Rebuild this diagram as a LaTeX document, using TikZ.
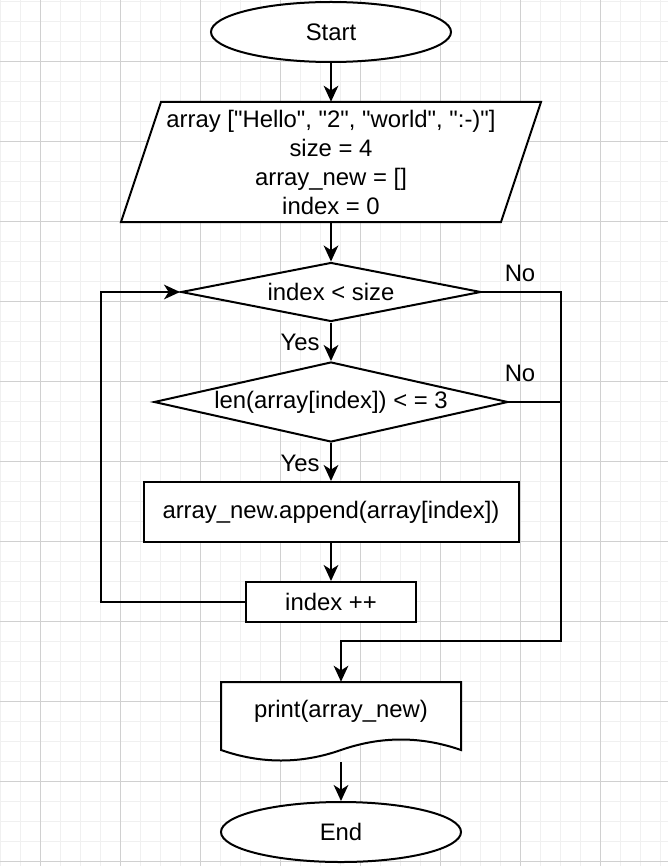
\documentclass[tikz,border=0pt]{standalone}
\usepackage{fontspec}
\setmainfont{Liberation Sans}[Ligatures=TeXOff]
\usetikzlibrary{shapes.geometric,arrows.meta}
\definecolor{gridminor}{RGB}{240,240,240}
\definecolor{gridmajor}{RGB}{208,208,208}
\tikzset{
  every node/.style={font=\fontsize{17.9pt}{21.75pt}\selectfont, inner sep=0pt},
  shapeline/.style={draw=black, line width=1.5pt, fill=white},
  term/.style={shapeline, ellipse, minimum width=180pt, minimum height=45pt},
  decision/.style={shapeline, diamond, aspect=5},
  procbox/.style={shapeline, rectangle},
  conn/.style={line width=1.5pt, -{Stealth[length=12pt,width=11pt,inset=3.5pt]}},
  plainconn/.style={line width=1.5pt},
  lbl/.style={}
}
\begin{document}
\begin{tikzpicture}[x=0.75pt,y=-0.75pt]
\useasboundingbox (0,0) rectangle (668,866);
\fill[white] (0,0) rectangle (668,866);
% grid
\foreach \gx in {0,...,33} {\draw[gridminor, line width=1.3pt] (0.5+20*\gx,0) -- (0.5+20*\gx,866);}
\foreach \gy in {0,...,43} {\draw[gridminor, line width=1.3pt] (0,1.5+20*\gy) -- (668,1.5+20*\gy);}
\foreach \gx in {0,...,7} {\draw[gridmajor, line width=0.75pt] (40.5+80*\gx,0) -- (40.5+80*\gx,866);}
\foreach \gy in {0,...,10} {\draw[gridmajor, line width=0.75pt] (0,61.5+80*\gy) -- (668,61.5+80*\gy);}

% shapes
\node[term] (start) at (331,32) {Start};

\draw[shapeline] (161,102) -- (541,102) -- (501,222) -- (121,222) -- cycle;
\node[minimum width=285pt, minimum height=90pt, align=center] (para) at (331,162)
  {array ["Hello", "2", "world", ":-)"]\\size = 4\\array\_new = []\\index = 0};

\node[decision, minimum width=225pt, minimum height=44.25pt] (d1) at (331,292) {index < size};
\node[decision, minimum width=265.5pt, minimum height=60pt] (d2) at (331,402) {len(array[index]) < = 3};
\node[procbox, minimum width=281.25pt, minimum height=45pt] (app) at (331,512) {array\_new.append(array[index])};
\node[procbox, minimum width=127.5pt, minimum height=30pt] (inc) at (331,602) {index ++};

\draw[shapeline] (221,682) -- (461,682) -- (461,750)
  .. controls (421,736) and (381,736) .. (341,750)
  .. controls (301,764) and (261,764) .. (221,750) -- cycle;
\node[minimum width=180pt, minimum height=60pt] (doc) at (341,722) {};
\node (doctext) at (341,711) {print(array\_new)};

\node[term] (end) at (341,832) {End};

% connectors
\coordinate (lp) at (101,602);
\coordinate (nr) at (561,641);
\draw[conn] (start.south) -- (para.north);
\draw[conn] (para.south) -- (d1.north);
\draw[conn] (d1.south) -- (d2.north);
\draw[conn] (d2.south) -- (app.north);
\draw[conn] (app.south) -- (inc.north);
\draw[conn] (inc.west) -- (lp) |- (d1.west);
\draw[conn] (d1.east) -| (nr) -| (doc.north);
\draw[plainconn] (d2.east) -- (d2.east -| nr);
\draw[conn] (doc.south) -- (end.north);

% labels
\node[lbl] (no1) at (520,273) {No};
\node[lbl] (no2) at (520,373) {No};
\node[lbl] (yes1) at (300,342) {Yes};
\node[lbl] (yes2) at (300,463) {Yes};
\end{tikzpicture}
\end{document}
